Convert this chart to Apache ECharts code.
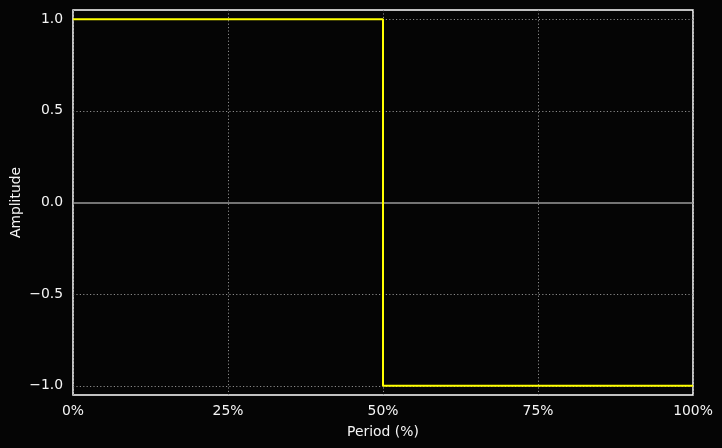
<!DOCTYPE html>
<html><head><meta charset="utf-8">
<script src="https://cdn.jsdelivr.net/npm/echarts@6/dist/echarts.min.js"></script>
<style>html,body{margin:0;padding:0;background:#050505;}#c{width:722px;height:448px;}</style>
</head><body><div id="c"></div>
<script>
const periodPct = [0, 50, 50, 100];
const amplitude = [1, 1, -1, -1];
const xTicks = [0, 25, 50, 75, 100];
const yTicks = [-1, -0.5, 0, 0.5, 1];

const chart = echarts.init(document.getElementById('c'), null, {renderer: 'canvas'});
const font = 'DejaVu Sans';
const gridLineStyle = {color: '#8a8a8a', type: [1.2, 2.2], width: 1};
chart.setOption({
  backgroundColor: '#050505',
  animation: false,
  grid: {left: 73, right: 29, top: 10, bottom: 53, containLabel: false, outerBoundsMode: 'none',
    show: true, borderColor: '#ffffff', borderWidth: 1.5, backgroundColor: 'transparent'},
  xAxis: {
    type: 'value', min: 0, max: 100, interval: 25,
    name: 'Period (%)', nameLocation: 'middle', nameGap: 30, nameMoveOverlap: false,
    nameTextStyle: {color: '#f5f5f5', fontFamily: font, fontSize: 13.9},
    axisLine: {show: false}, axisTick: {show: false},
    axisLabel: {color: '#f5f5f5', fontFamily: font, fontSize: 13.9, margin: 9, formatter: v => v + '%'},
    splitLine: {show: true, lineStyle: gridLineStyle}
  },
  yAxis: {
    type: 'value', min: -1.05, max: 1.05,
    name: 'Amplitude', nameLocation: 'middle', nameGap: 50, nameRotate: 90, nameMoveOverlap: false,
    nameTextStyle: {color: '#f5f5f5', fontFamily: font, fontSize: 13.9},
    axisLine: {show: false},
    axisTick: {show: false, customValues: yTicks},
    axisLabel: {color: '#f5f5f5', fontFamily: font, fontSize: 13.9, margin: 10, customValues: yTicks,
      formatter: v => (v < 0 ? '\u2212' : '') + Math.abs(v).toFixed(1)},
    splitLine: {show: false}
  },
  series: [{
    type: 'line',
    data: periodPct.map((x, i) => [x, amplitude[i]]),
    showSymbol: false,
    lineStyle: {color: '#ffff00', width: 2},
    z: 5,
    markLine: {
      silent: true, symbol: 'none', label: {show: false}, z: 1,
      data: yTicks.map(v => ({yAxis: v, lineStyle: v === 0 ? {color: '#9a9a9a', type: 'solid', width: 1.5} : gridLineStyle}))
    }
  }]
});
</script>
</body></html>
